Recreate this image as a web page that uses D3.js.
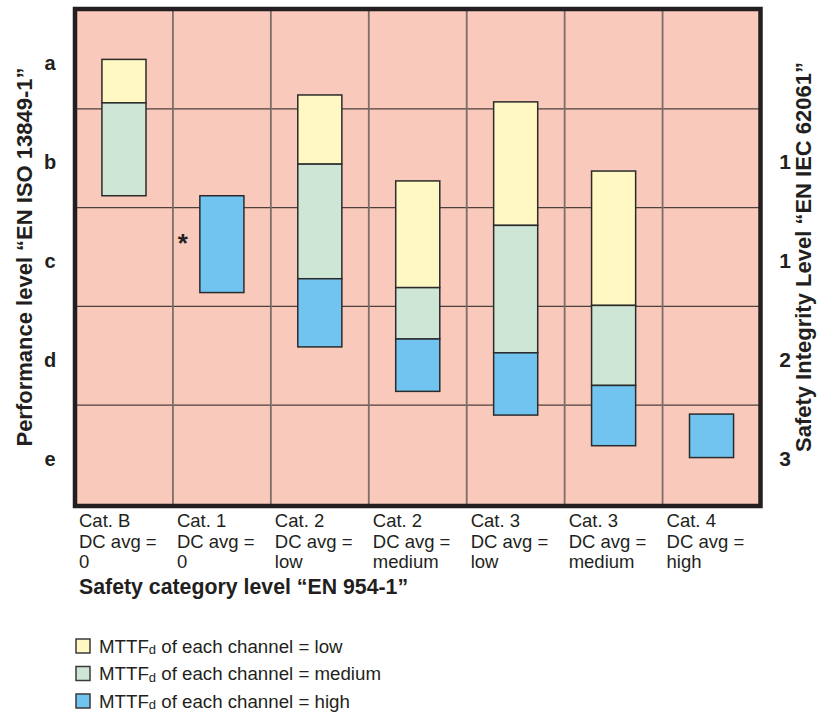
<!DOCTYPE html>
<html>
<head>
<meta charset="utf-8">
<script src="https://cdn.jsdelivr.net/npm/d3@7"></script>
<style>
  body { margin: 0; background: #fff; }
  svg { display: block; font-family: "Liberation Sans", Arial, Helvetica, sans-serif; }
  .bold { font-weight: bold; fill: #231f20; }
  .cat { font-size: 18.5px; fill: #231f20; }
  .legend { font-size: 18.7px; fill: #231f20; }
</style>
</head>
<body>
<svg width="829" height="714"></svg>
<script>
// categories (x axis)
const catNames = ['Cat. B', 'Cat. 1', 'Cat. 2', 'Cat. 2', 'Cat. 3', 'Cat. 3', 'Cat. 4'];
const dcAvg = ['0', '0', 'low', 'medium', 'low', 'medium', 'high'];

// performance levels (left) and SIL (right), one per row
const plLevels = ['a', 'b', 'c', 'd', 'e'];
const silLabels = ['', '1', '1', '2', '3'];

// bar spans in PL units (0 = top of "a", 5 = bottom of "e"), null = no bar
const mttfLow = [[0.50, 0.94], null, [0.86, 1.56], [1.73, 2.81], [0.93, 2.18], [1.63, 2.99], null];
const mttfMedium = [[0.94, 1.88], null, [1.56, 2.72], [2.81, 3.33], [2.18, 3.47], [2.99, 3.80], null];
const mttfHigh = [null, [1.88, 2.86], [2.72, 3.41], [3.33, 3.86], [3.47, 4.10], [3.80, 4.41], [4.09, 4.53]];

const seriesNames = ['low', 'medium', 'high'];
const seriesColors = ['#fff8c2', '#cde6d6', '#71c4ef'];
const seriesData = [mttfLow, mttfMedium, mttfHigh];

const svg = d3.select('svg');

const plotLeft = 75, plotRight = 760.5, plotTop = 10, plotBottom = 504;

const xScale = d3.scaleBand()
  .domain(d3.range(catNames.length))
  .range([plotLeft, plotRight]);

const yScale = d3.scaleLinear()
  .domain([0, plLevels.length])
  .range([plotTop, plotBottom]);

const rowScale = d3.scaleBand()
  .domain(plLevels)
  .range([plotTop, plotBottom]);

// background
svg.append('rect')
  .attr('x', plotLeft).attr('y', plotTop)
  .attr('width', plotRight - plotLeft).attr('height', plotBottom - plotTop)
  .attr('fill', '#f9c9bc');

// grid lines
svg.append('g')
  .selectAll('line')
  .data(plLevels.slice(1))
  .enter()
  .append('line')
  .attr('x1', plotLeft).attr('x2', plotRight)
  .attr('y1', d => rowScale(d)).attr('y2', d => rowScale(d))
  .attr('stroke', '#4d403d')
  .attr('stroke-width', 1.2);

svg.append('g')
  .selectAll('line')
  .data(d3.range(1, catNames.length))
  .enter()
  .append('line')
  .attr('x1', d => xScale(d)).attr('x2', d => xScale(d))
  .attr('y1', plotTop).attr('y2', plotBottom)
  .attr('stroke', '#7d6d69')
  .attr('stroke-width', 1.8);

// bars
const barW = xScale.bandwidth() * 0.45;
seriesData.forEach((series, s) => {
  svg.append('g')
    .selectAll('rect')
    .data(series.map((v, i) => ({ i: i, v: v })).filter(d => d.v))
    .enter()
    .append('rect')
    .attr('x', d => xScale(d.i) + (xScale.bandwidth() - barW) / 2)
    .attr('y', d => yScale(d.v[0]))
    .attr('width', barW)
    .attr('height', d => yScale(d.v[1]) - yScale(d.v[0]))
    .attr('fill', seriesColors[s])
    .attr('stroke', '#2b2b2b')
    .attr('stroke-width', 1.5);
});

// asterisk next to Cat. 1
svg.append('text')
  .attr('class', 'bold')
  .attr('x', xScale(1) + 10)
  .attr('y', yScale(2.45))
  .attr('text-anchor', 'middle')
  .attr('font-size', 26)
  .text('*');

// frame
svg.append('rect')
  .attr('x', plotLeft).attr('y', plotTop - 1)
  .attr('width', plotRight - plotLeft).attr('height', plotBottom - plotTop + 3)
  .attr('fill', 'none')
  .attr('stroke', '#231f20')
  .attr('stroke-width', 4.5);

// left PL labels
svg.append('g')
  .selectAll('text')
  .data(plLevels)
  .enter()
  .append('text')
  .attr('class', 'bold')
  .attr('x', 50)
  .attr('y', d => rowScale(d) + rowScale.bandwidth() / 2 + 11)
  .attr('text-anchor', 'middle')
  .attr('font-size', 20)
  .text(d => d);

// right SIL labels
svg.append('g')
  .selectAll('text')
  .data(silLabels)
  .enter()
  .append('text')
  .attr('class', 'bold')
  .attr('x', 785)
  .attr('y', (d, i) => rowScale(plLevels[i]) + rowScale.bandwidth() / 2 + 11)
  .attr('text-anchor', 'middle')
  .attr('font-size', 21)
  .text(d => d);

// axis titles
const midY = (plotTop + plotBottom) / 2;
svg.append('text')
  .attr('class', 'bold')
  .attr('transform', `translate(32, ${midY}) rotate(-90)`)
  .attr('text-anchor', 'middle')
  .attr('font-size', 22)
  .text('Performance level “EN ISO 13849-1”');

svg.append('text')
  .attr('class', 'bold')
  .attr('transform', `translate(811, ${midY}) rotate(-90)`)
  .attr('text-anchor', 'middle')
  .attr('font-size', 22)
  .text('Safety Integrity Level “EN IEC 62061”');

// category labels
const catG = svg.append('g')
  .selectAll('text')
  .data(catNames)
  .enter()
  .append('text')
  .attr('class', 'cat')
  .attr('x', (d, i) => xScale(i) + 4)
  .attr('y', 527);
catG.append('tspan').text(d => d);
catG.append('tspan').attr('x', (d, i) => xScale(i) + 4).attr('dy', 20.5).text('DC avg =');
catG.append('tspan').attr('x', (d, i) => xScale(i) + 4).attr('dy', 20.5).text((d, i) => dcAvg[i]);

svg.append('text')
  .attr('class', 'bold')
  .attr('x', 79)
  .attr('y', 594)
  .attr('font-size', 21.3)
  .text('Safety category level “EN 954-1”');

// legend
const legend = svg.append('g')
  .selectAll('g')
  .data(seriesNames)
  .enter()
  .append('g')
  .attr('transform', (d, i) => `translate(76, ${639 + i * 27.5})`);

legend.append('rect')
  .attr('width', 14).attr('height', 14)
  .attr('fill', (d, i) => seriesColors[i])
  .attr('stroke', '#3a3a3a')
  .attr('stroke-width', 1.5);

const lt = legend.append('text')
  .attr('class', 'legend')
  .attr('x', 23)
  .attr('y', 13.5);
lt.append('tspan').text('MTTF');
lt.append('tspan').attr('font-size', 13).attr('dy', 1.5).text('d');
lt.append('tspan').attr('dy', -1.5).text(d => ` of each channel = ${d}`);
</script>
</body>
</html>
